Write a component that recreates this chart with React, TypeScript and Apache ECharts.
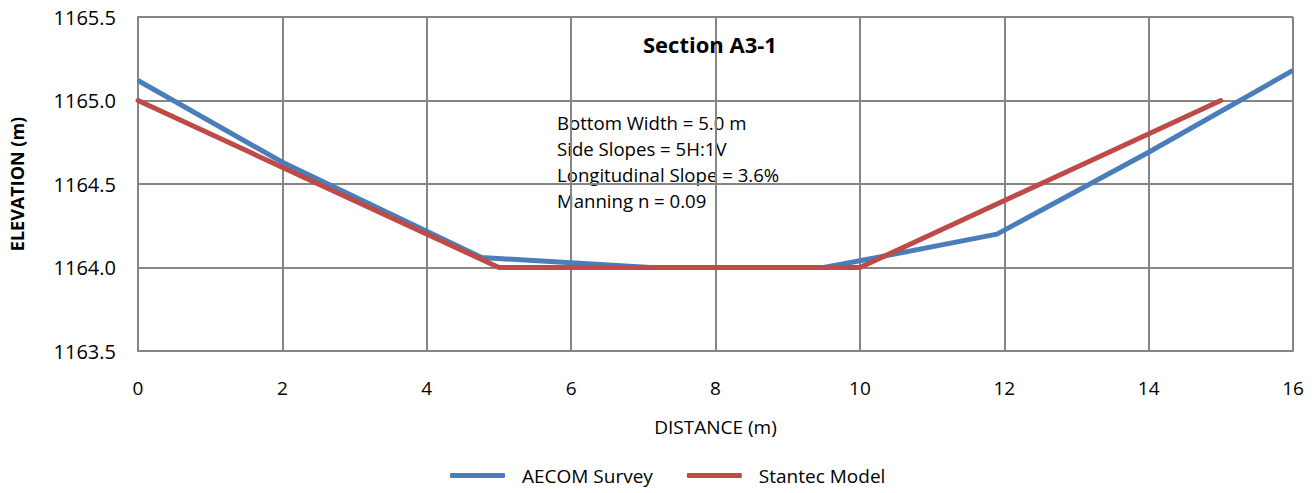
import React, { useEffect, useRef } from "react";
import * as echarts from "echarts";

const aecomX = [0, 2, 4.76, 7.1, 9.5, 10, 11.9, 14, 16];
const aecomY = [1165.12, 1164.63, 1164.06, 1164.0, 1164.0, 1164.04, 1164.2, 1164.69, 1165.18];
const stantecX = [0, 5, 10, 15];
const stantecY = [1165.0, 1164.0, 1164.0, 1165.0];
const seriesNames = ["AECOM Survey", "Stantec Model"];
const annotation = [
  "Bottom Width = 5.0 m",
  "Side Slopes = 5H:1V",
  "Longitudinal Slope = 3.6%",
  "Manning n = 0.09",
];
const FONT = "'Open Sans', 'Noto Sans', sans-serif";

export default function App() {
  const ref = useRef<HTMLDivElement>(null);
  useEffect(() => {
    if (!ref.current) return;
    const chart = echarts.init(ref.current, null, { renderer: "svg" });
    const pair = (xs: number[], ys: number[]) => xs.map((x, i) => [x, ys[i]]);
    chart.setOption({
      animation: false,
      grid: { left: 138, right: 23, top: 17, bottom: 142, containLabel: false },
      title: {
        text: "Section A3-1",
        left: 638,
        top: 28,
        textStyle: { fontFamily: FONT, fontSize: 22, fontWeight: "bold", color: "#000" },
      },
      legend: {
        bottom: 3,
        left: 445,
        itemWidth: 55,
        itemHeight: 5,
        itemGap: 34,
        icon: "roundRect",
        textStyle: { fontFamily: FONT, fontSize: 19, color: "#000", padding: [0, 0, 0, 12] },
        data: seriesNames,
      },
      xAxis: {
        type: "value",
        min: 0,
        max: 16,
        interval: 2,
        name: "DISTANCE (m)",
        nameLocation: "middle",
        nameGap: 66,
        nameTextStyle: { fontFamily: FONT, fontSize: 19, color: "#000" },
        axisLine: { show: true, lineStyle: { color: "#868686", width: 2 } },
        axisTick: { show: false },
        axisLabel: { fontFamily: FONT, fontSize: 19, color: "#000", margin: 27 },
        splitLine: { show: true, lineStyle: { color: "#868686", width: 2 } },
      },
      yAxis: {
        type: "value",
        min: 1163.5,
        max: 1165.5,
        interval: 0.5,
        name: "ELEVATION (m)",
        nameLocation: "middle",
        nameGap: 112,
        nameTextStyle: { fontFamily: FONT, fontSize: 18, fontWeight: "bold", color: "#000" },
        axisLine: { show: true, lineStyle: { color: "#868686", width: 2 } },
        axisTick: { show: false },
        axisLabel: {
          fontFamily: FONT,
          fontSize: 20,
          color: "#000",
          margin: 22,
          formatter: (v: number) => v.toFixed(1),
        },
        splitLine: { show: true, lineStyle: { color: "#868686", width: 2 } },
      },
      graphic: [
        {
          type: "text",
          left: 557,
          top: 109,
          style: {
            text: annotation.join("\n"),
            fontFamily: FONT,
            fontSize: 18.6,
            lineHeight: 26,
            fill: "#000",
          },
        },
      ],
      series: [
        {
          name: seriesNames[0],
          type: "line",
          data: pair(aecomX, aecomY),
          showSymbol: false,
          symbol: "none",
          lineStyle: { color: "#4a7ebb", width: 5 },
          itemStyle: { color: "#4a7ebb" },
          z: 2,
        },
        {
          name: seriesNames[1],
          type: "line",
          data: pair(stantecX, stantecY),
          showSymbol: false,
          symbol: "none",
          lineStyle: { color: "#be4b48", width: 5, cap: "round" },
          itemStyle: { color: "#be4b48" },
          z: 3,
        },
      ],
    });
    return () => chart.dispose();
  }, []);
  return <div ref={ref} style={{ width: 1316, height: 493, position: "absolute", left: 0, top: 0 }} />;
}
